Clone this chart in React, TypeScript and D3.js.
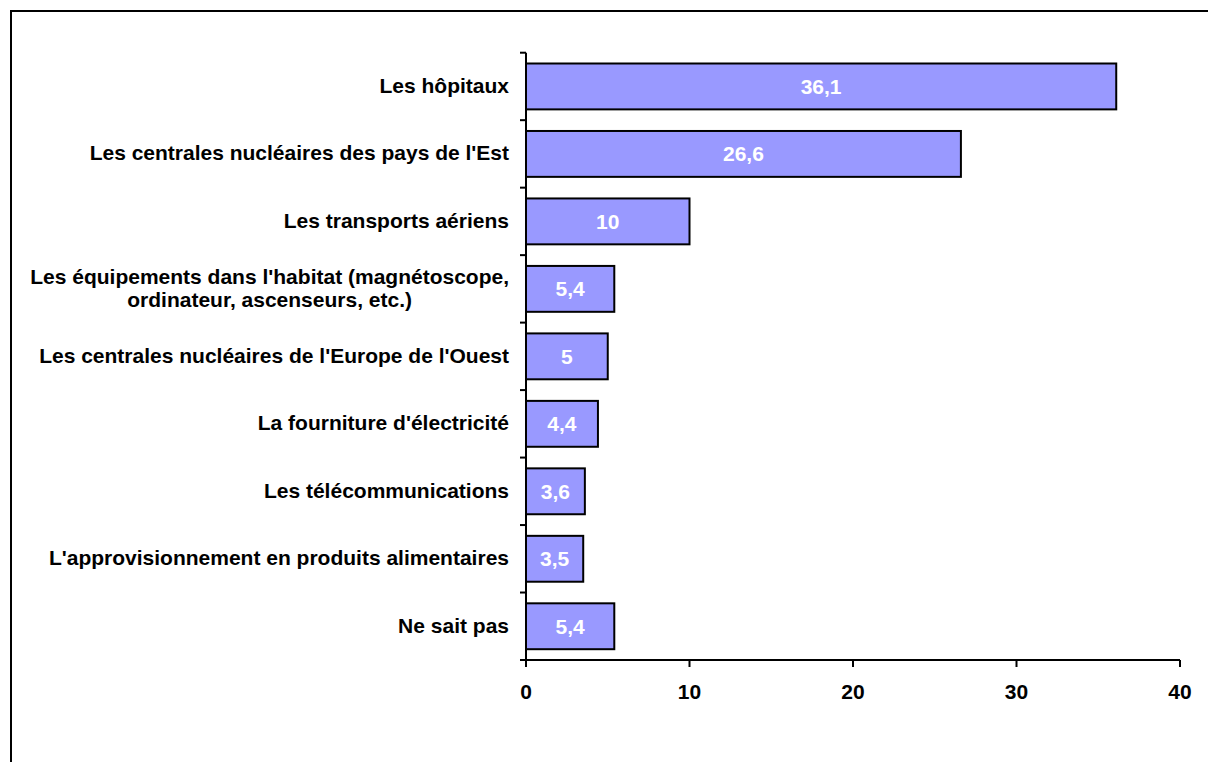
import React from "react";
import * as d3 from "d3";

const categories: string[][] = [
  ["Les hôpitaux"],
  ["Les centrales nucléaires des pays de l'Est"],
  ["Les transports aériens"],
  ["Les équipements dans l'habitat (magnétoscope,", "ordinateur, ascenseurs, etc.)"],
  ["Les centrales nucléaires de l'Europe de l'Ouest"],
  ["La fourniture d'électricité"],
  ["Les télécommunications"],
  ["L'approvisionnement en produits alimentaires"],
  ["Ne sait pas"],
];
const values: number[] = [36.1, 26.6, 10, 5.4, 5, 4.4, 3.6, 3.5, 5.4];
const valueLabels: string[] = ["36,1", "26,6", "10", "5,4", "5", "4,4", "3,6", "3,5", "5,4"];
const xTicks: number[] = [0, 10, 20, 30, 40];

const W = 1208;
const H = 762;
const FONT = "'Liberation Sans', Arial, Helvetica, sans-serif";
const FS = 21;

let ctx: CanvasRenderingContext2D | null = null;
function measure(s: string): number {
  if (!ctx) {
    const c = document.createElement("canvas");
    ctx = c.getContext("2d");
  }
  if (!ctx) return s.length * FS * 0.55;
  ctx.font = `bold ${FS}px ${FONT}`;
  return ctx.measureText(s).width;
}

export default function App() {
  const x = d3.scaleLinear().domain([0, 40]).range([526, 1180]);
  const idx = categories.map((_, i) => String(i));
  const y = d3.scaleBand<string>().domain(idx).range([52.7, 660]).paddingInner(0.32).paddingOuter(0.16);
  const step = y.step();
  const top = 52.7;
  const bottom = 660;
  const boundaries = d3.range(categories.length + 1).map((i) => top + i * step);
  const LH = 23.5;
  const RX = 509;

  return (
    <svg
      width={W}
      height={H}
      style={{ position: "absolute", left: 0, top: 0, display: "block", background: "#fff" }}
    >
      <rect x={11} y={11} width={1400} height={1000} fill="#fff" stroke="#000" strokeWidth={2} />
      {values.map((v, i) => {
        const by = y(String(i))!;
        const bh = y.bandwidth();
        const lines = categories[i];
        const multi = lines.length > 1;
        const maxW = multi ? Math.max(...lines.map(measure)) : 0;
        const cx = RX - maxW / 2;
        return (
          <g key={i}>
            <rect x={x(0)} y={by} width={x(v) - x(0)} height={bh} fill="#9999FF" stroke="#000" strokeWidth={2} />
            <text
              x={(x(0) + x(v)) / 2}
              y={by + bh / 2 + 7.5}
              textAnchor="middle"
              fill="#fff"
              fontFamily={FONT}
              fontWeight="bold"
              fontSize={FS}
            >
              {valueLabels[i]}
            </text>
            <text
              x={multi ? cx : RX}
              y={by + bh / 2 + 6.5 - ((lines.length - 1) * LH) / 2}
              textAnchor={multi ? "middle" : "end"}
              fill="#000"
              fontFamily={FONT}
              fontWeight="bold"
              fontSize={FS}
            >
              {lines.map((line, j) => (
                <tspan key={j} x={multi ? cx : RX} dy={j === 0 ? 0 : LH}>
                  {line}
                </tspan>
              ))}
            </text>
          </g>
        );
      })}
      <line x1={526} x2={526} y1={top} y2={bottom} stroke="#000" strokeWidth={2} />
      {boundaries.map((b, i) => (
        <line key={i} x1={520} x2={526} y1={b} y2={b} stroke="#000" strokeWidth={2} />
      ))}
      <line x1={520} x2={x(40)} y1={bottom} y2={bottom} stroke="#000" strokeWidth={2} />
      {xTicks.map((t) => (
        <g key={t}>
          <line x1={x(t)} x2={x(t)} y1={bottom} y2={bottom + 7} stroke="#000" strokeWidth={2} />
          <text
            x={x(t)}
            y={699}
            textAnchor="middle"
            fill="#000"
            fontFamily={FONT}
            fontWeight="bold"
            fontSize={FS}
          >
            {t}
          </text>
        </g>
      ))}
    </svg>
  );
}
